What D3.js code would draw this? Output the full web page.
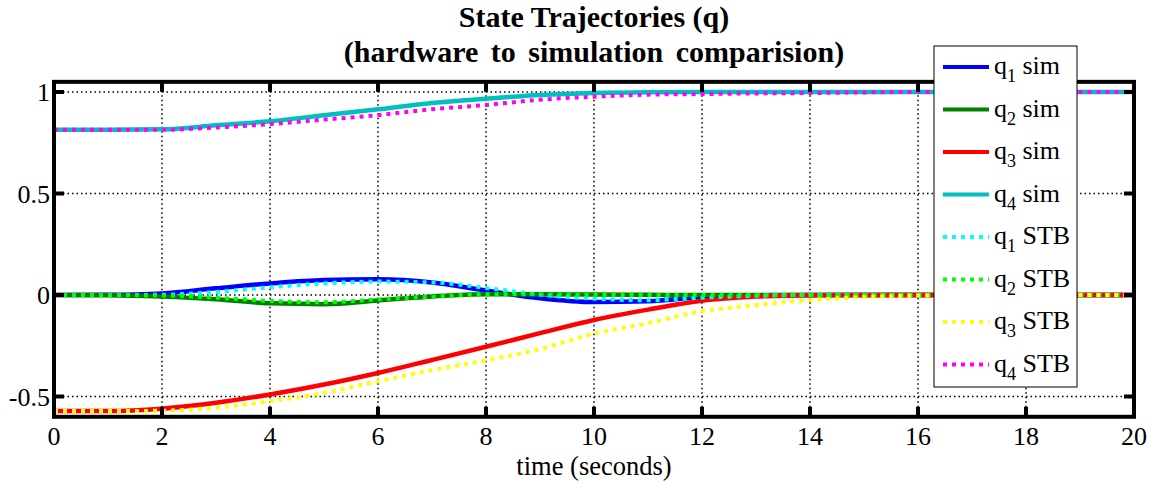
<!DOCTYPE html>
<html><head><meta charset="utf-8">
<script src="https://cdn.jsdelivr.net/npm/d3@7"></script>
<style>body{margin:0;background:#fff;}</style>
</head><body>
<svg id="c" width="1152" height="483" font-family="'Liberation Serif', 'Times New Roman', serif"></svg>
<script>
const time = [0,1,2,3,4,5,6,7,8,9,10,11,12,13,14,15,16,17,18,19,20];
const q1sim = [0,0.001,0.008,0.033,0.057,0.074,0.078,0.062,0.022,-0.016,-0.035,-0.031,-0.010,-0.002,0,0,0,0,0,0,0];
const q2sim = [0,-0.001,-0.008,-0.021,-0.041,-0.045,-0.027,-0.007,0.004,0.004,0.002,0.001,0,0,0,0,0,0,0,0,0];
const q3sim = [-0.572,-0.572,-0.560,-0.531,-0.490,-0.441,-0.384,-0.320,-0.255,-0.188,-0.123,-0.072,-0.028,-0.008,-0.001,0,0,0,0,0,0];
const q4sim = [0.814,0.814,0.816,0.836,0.856,0.885,0.915,0.946,0.967,0.985,0.995,0.999,1,1,1,1,1,1,1,1,1];
const q1stb = [0,0,0.001,0.015,0.038,0.057,0.066,0.062,0.035,0.002,-0.018,-0.026,-0.013,-0.004,0,0,0,0,0,0,0];
const q2stb = [0,0,-0.002,-0.013,-0.029,-0.036,-0.022,-0.008,0.004,0.003,0.001,0,0,0,0,0,0,0,0,0,0];
const q3stb = [-0.572,-0.572,-0.570,-0.555,-0.523,-0.482,-0.425,-0.370,-0.322,-0.266,-0.190,-0.139,-0.080,-0.050,-0.025,-0.010,-0.003,0,0,0,0];
const q4stb = [0.814,0.814,0.814,0.825,0.842,0.864,0.886,0.915,0.936,0.962,0.977,0.987,0.990,0.993,0.995,0.998,1,1,1,1,1];
const xTicks = [0,2,4,6,8,10,12,14,16,18,20];
const yTicks = [-0.5,0,0.5,1];
const yTickLabels = ["-0.5","0","0.5","1"];
const seriesNames = ["sim","sim","sim","sim","STB","STB","STB","STB"];
const seriesIdx = ["1","2","3","4","1","2","3","4"];
const seriesColors = ["#0000ff","#008000","#ff0000","#00bfbf","#00ffff","#00ff00","#ffff00","#ff00ff"];
const seriesData = [q1sim,q2sim,q3sim,q4sim,q1stb,q2stb,q3stb,q4stb];
const seriesDotted = [false,false,false,false,true,true,true,true];
const titleLines = ["State Trajectories (q)","(hardware to simulation comparision)"];
const xLabel = "time (seconds)";

const svg = d3.select("#c");
const L=54, R=1134, T=81.85, B=416.8;
const x = d3.scaleLinear().domain([0,20]).range([L,R]);
const y = d3.scaleLinear().domain([-0.6,1.05]).range([B,T]);

svg.append("defs").append("clipPath").attr("id","clip").append("rect")
  .attr("x",L).attr("y",T).attr("width",R-L).attr("height",B-T);

// grid
const g = svg.append("g");
g.selectAll(".gx").data(xTicks.slice(1,-1)).enter().append("line")
  .attr("x1",d=>x(d)).attr("x2",d=>x(d)).attr("y1",T).attr("y2",B)
  .attr("stroke","#000").attr("stroke-width",1.5).attr("stroke-dasharray","1.5,3");
g.selectAll(".gy").data(yTicks).enter().append("line")
  .attr("y1",d=>y(d)).attr("y2",d=>y(d)).attr("x1",L).attr("x2",R)
  .attr("stroke","#000").attr("stroke-width",1.5).attr("stroke-dasharray","1.5,3");

// lines
const line = d3.line().x((d,i)=>x(time[i])).y(d=>y(d)).curve(d3.curveMonotoneX);
const lg = svg.append("g").attr("clip-path","url(#clip)");
seriesData.forEach((s,k)=>{
  lg.append("path").attr("d",line(s)).attr("fill","none")
    .attr("stroke",seriesColors[k]).attr("stroke-width",seriesDotted[k]?4:4.5)
    .attr("stroke-dasharray",seriesDotted[k]?"4,5":null);
});

// axes box and ticks
const ax = svg.append("g");
ax.append("rect").attr("x",L).attr("y",T).attr("width",R-L).attr("height",B-T)
  .attr("fill","none").attr("stroke","#000").attr("stroke-width",4);
const tl = 10;
xTicks.forEach(t=>{
  ax.append("line").attr("x1",x(t)).attr("x2",x(t)).attr("y1",B).attr("y2",B-tl).attr("stroke","#000").attr("stroke-width",4);
  ax.append("line").attr("x1",x(t)).attr("x2",x(t)).attr("y1",T).attr("y2",T+tl).attr("stroke","#000").attr("stroke-width",4);
  ax.append("text").attr("x",x(t)).attr("y",B+28).attr("text-anchor","middle").attr("font-size",26).text(t);
});
yTicks.forEach((t,i)=>{
  ax.append("line").attr("y1",y(t)).attr("y2",y(t)).attr("x1",L).attr("x2",L+tl).attr("stroke","#000").attr("stroke-width",4);
  ax.append("line").attr("y1",y(t)).attr("y2",y(t)).attr("x1",R).attr("x2",R-tl).attr("stroke","#000").attr("stroke-width",4);
  ax.append("text").attr("x",L-4).attr("y",y(t)+9).attr("text-anchor","end").attr("font-size",26).text(yTickLabels[i]);
});
svg.append("text").attr("x",(L+R)/2).attr("y",475).attr("text-anchor","middle").attr("font-size",26.5).text(xLabel);
titleLines.forEach((s,i)=>{
  svg.append("text").attr("x",(L+R)/2).attr("y",27+i*35).attr("text-anchor","middle")
    .attr("font-size",30).attr("font-weight","bold")
    .attr("word-spacing",i===1?5:0).text(s);
});

// legend
const lgd = svg.append("g");
lgd.append("rect").attr("x",934).attr("y",46).attr("width",143).attr("height",341)
  .attr("fill","#fff").attr("stroke","#000").attr("stroke-width",1);
seriesData.forEach((s,k)=>{
  const cy = 67 + 42.5*k;
  lgd.append("line").attr("x1",943).attr("x2",989).attr("y1",cy).attr("y2",cy)
    .attr("stroke",seriesColors[k]).attr("stroke-width",4)
    .attr("stroke-dasharray",seriesDotted[k]?"4,5":null);
  const t = lgd.append("text").attr("x",994).attr("y",cy+7).attr("font-size",26);
  t.append("tspan").text("q");
  t.append("tspan").attr("dy",8).attr("font-size",18).text(seriesIdx[k]);
  t.append("tspan").attr("dy",-8).text(" "+seriesNames[k]);
});
</script>
</body></html>
